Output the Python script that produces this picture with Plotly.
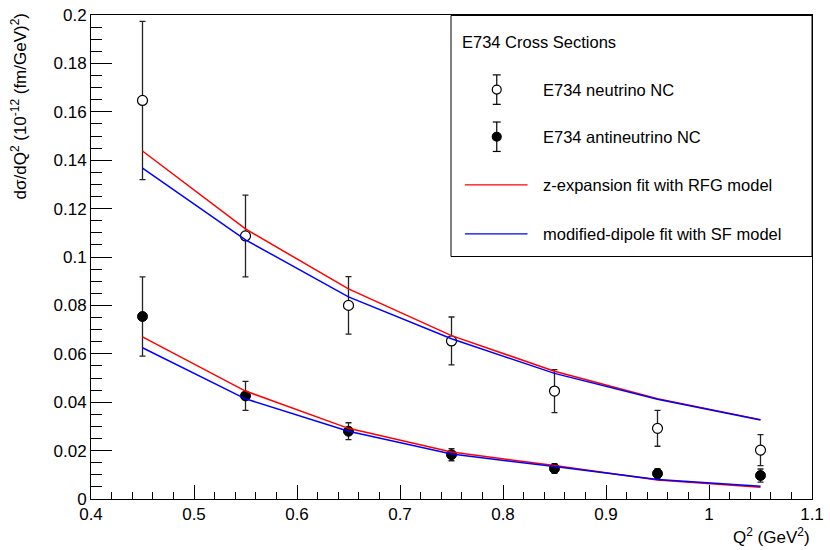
import plotly.graph_objects as go

# ---- data ----
q2 = [0.45, 0.55, 0.65, 0.75, 0.85, 0.95, 1.05]

nu_xsec = [0.1647, 0.1087, 0.0800, 0.0653, 0.0446, 0.0292, 0.0202]
nu_err = [0.0327, 0.0169, 0.0119, 0.0099, 0.0089, 0.0074, 0.0064]

nubar_xsec = [0.0754, 0.0426, 0.0280, 0.0183, 0.0126, 0.0105, 0.0097]
nubar_err = [0.0164, 0.0060, 0.0035, 0.0025, 0.0020, 0.0020, 0.0027]

zexp_nu = [0.1438, 0.1116, 0.0868, 0.0675, 0.0528, 0.0414, 0.0328]
dip_nu = [0.1367, 0.1071, 0.0835, 0.0662, 0.0519, 0.0412, 0.0326]
zexp_nubar = [0.0670, 0.0446, 0.0292, 0.0194, 0.0138, 0.0079, 0.0049]
dip_nubar = [0.0625, 0.0414, 0.0280, 0.0186, 0.0134, 0.0081, 0.0053]

legend_title = "E734 Cross Sections"
legend_labels = ["E734 neutrino NC", "E734 antineutrino NC",
                 "z-expansion fit with RFG model", "modified-dipole fit with SF model"]

# ---- layout geometry (pixels) ----
W, H = 830, 550
ML, MR, MT, MB = 91, 14, 6, 51
PW, PH = W - ML - MR, H - MT - MB


def px(x):
    return (x - ML) / PW


def py(y):
    return (H - MB - y) / PH


FONT = "Liberation Sans, Arial, sans-serif"

fig = go.Figure()

fig.add_trace(go.Scatter(
    x=q2, y=nu_xsec, mode="markers", name=legend_labels[0], showlegend=False,
    marker=dict(symbol="circle", size=10, color="white", line=dict(color="black", width=1.2)),
    error_y=dict(type="data", array=nu_err, color="#222222", thickness=1.3, width=3),
))
fig.add_trace(go.Scatter(
    x=q2, y=nubar_xsec, mode="markers", name=legend_labels[1], showlegend=False,
    marker=dict(symbol="circle", size=10, color="black", line=dict(color="black", width=1)),
    error_y=dict(type="data", array=nubar_err, color="#222222", thickness=1.3, width=3),
))
for ys, col, nm in [(zexp_nu, "#ff0000", legend_labels[2]), (dip_nu, "#0000ff", legend_labels[3]),
                    (zexp_nubar, "#ff0000", legend_labels[2]), (dip_nubar, "#0000ff", legend_labels[3])]:
    fig.add_trace(go.Scatter(x=q2, y=ys, mode="lines", name=nm, showlegend=False,
                             line=dict(color=col, width=1.5)))

shapes = []
annotations = []

# legend box
shapes.append(dict(type="rect", xref="paper", yref="paper",
                   x0=px(453), x1=px(816), y0=py(252), y1=py(6.5),
                   line=dict(color="black", width=1), fillcolor="white", layer="above"))
annotations.append(dict(xref="paper", yref="paper", x=px(462), y=py(33), text=legend_title,
                        showarrow=False, xanchor="left", yanchor="middle",
                        font=dict(family=FONT, size=16.5, color="black")))

# legend symbols for data points
for yc, fill in [(82, "white"), (130, "black")]:
    shapes.append(dict(type="line", xref="paper", yref="paper", x0=px(499), x1=px(499),
                       y0=py(yc - 15), y1=py(yc + 15), line=dict(color="black", width=1.2), layer="above"))
    for yy in (yc - 15, yc + 15):
        shapes.append(dict(type="line", xref="paper", yref="paper", x0=px(495), x1=px(503),
                           y0=py(yy), y1=py(yy), line=dict(color="black", width=1.2), layer="above"))
    shapes.append(dict(type="circle", xref="paper", yref="paper", x0=px(494.5), x1=px(503.5),
                       y0=py(yc + 4.5), y1=py(yc - 4.5), fillcolor=fill,
                       line=dict(color="black", width=1.2), layer="above"))
# legend symbols for lines
for yc, col in [(179, "#ff0000"), (229, "#0000ff")]:
    shapes.append(dict(type="line", xref="paper", yref="paper", x0=px(467), x1=px(530),
                       y0=py(yc), y1=py(yc), line=dict(color=col, width=1.3), layer="above"))

for yc, lab in zip([82, 130, 179, 229], legend_labels):
    annotations.append(dict(xref="paper", yref="paper", x=px(543), y=py(yc), text=lab,
                            showarrow=False, xanchor="left", yanchor="middle",
                            font=dict(family=FONT, size=16.5, color="black")))

# axis titles
annotations.append(dict(xref="paper", yref="paper", x=px(816), y=py(537),
                        text="Q<sup>2</sup> (GeV<sup>2</sup>)", showarrow=False,
                        xanchor="right", yanchor="middle",
                        font=dict(family=FONT, size=17, color="black")))
annotations.append(dict(xref="paper", yref="paper", x=px(19), y=py(2),
                        text="dσ/dQ<sup>2</sup> (10<sup>-12</sup> (fm/GeV)<sup>2</sup>)",
                        showarrow=False, textangle=-90, xanchor="center", yanchor="top",
                        font=dict(family=FONT, size=17, color="black")))

fig.update_layout(
    width=W, height=H,
    margin=dict(l=ML, r=MR, t=MT, b=MB, pad=0),
    paper_bgcolor="white", plot_bgcolor="white",
    showlegend=False,
    shapes=shapes, annotations=annotations,
    font=dict(family=FONT, size=17, color="black"),
)
fig.update_xaxes(range=[0.4, 1.1], dtick=0.1, tick0=0.4, showgrid=False, zeroline=False,
                 showline=True, linecolor="black", linewidth=1, mirror=True,
                 ticks="inside", ticklen=14, tickcolor="black", tickwidth=1,
                 ticklabeloverflow="allow",
                 minor=dict(dtick=0.02, tick0=0.4, ticks="inside", ticklen=7, tickcolor="black", showgrid=False),
                 tickfont=dict(family=FONT, size=17, color="black"))
fig.update_yaxes(range=[0, 0.2], dtick=0.02, tick0=0, showgrid=False, zeroline=False,
                 showline=True, linecolor="black", linewidth=1, mirror=True,
                 ticks="inside", ticklen=21, tickcolor="black", tickwidth=1,
                 ticklabeloverflow="allow",
                 minor=dict(dtick=0.005, tick0=0, ticks="inside", ticklen=11, tickcolor="black", showgrid=False),
                 tickfont=dict(family=FONT, size=17, color="black"))

fig.write_html(
    "out.html",
    config={"displayModeBar": False},
    post_script="document.body.style.margin='0';document.body.style.padding='0';"
                "document.body.style.overflow='hidden';",
)
